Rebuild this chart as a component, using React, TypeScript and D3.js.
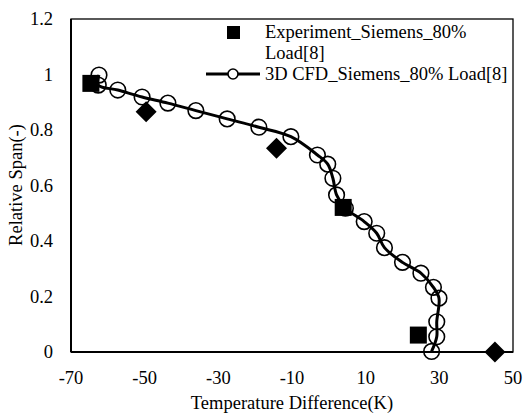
import React from "react";
import * as d3 from "d3";

const cfdX = [-62.4, -62.6, -57.3, -50.7, -43.7, -36.1, -27.6, -19.0, -10.3, -3.1, -0.3, 1.1, 2.1, 4.5, 9.6, 13.0, 15.1, 20.0, 25.0, 28.4, 29.9, 29.3, 29.3, 27.9];
const cfdY = [0.998, 0.962, 0.944, 0.919, 0.897, 0.870, 0.840, 0.810, 0.776, 0.710, 0.677, 0.626, 0.566, 0.518, 0.470, 0.428, 0.376, 0.323, 0.284, 0.233, 0.194, 0.109, 0.055, 0.002];

const expSquareX = [-64.6, 3.9, 24.3];
const expSquareY = [0.968, 0.521, 0.061];
const expDiamondX = [-49.6, -14.2, 45.1];
const expDiamondY = [0.866, 0.734, 0.0];

const xTicks = [-70, -50, -30, -10, 10, 30, 50];
const yTicks = [0, 0.2, 0.4, 0.6, 0.8, 1, 1.2];

const legendLabels = ["Experiment_Siemens_80%", "Load[8]", "3D CFD_Siemens_80% Load[8]"];
const xTitle = "Temperature Difference(K)";
const yTitle = "Relative Span(-)";

export default function App() {
  const W = 524, H = 417;
  const L = 71, R = 513, T = 19, B = 352;
  const x = d3.scaleLinear().domain([-70, 50]).range([L, R]);
  const y = d3.scaleLinear().domain([0, 1.2]).range([B, T]);
  const tstyle = { fontFamily: "'Liberation Serif', 'Times New Roman', serif", fontSize: "18.5px" };

  const pts: [number, number][] = cfdX.map((v, i) => [v, cfdY[i]]);
  const line = d3
    .line<[number, number]>()
    .x((d) => x(d[0]))
    .y((d) => y(d[1]))
    .curve(d3.curveCatmullRom.alpha(0.5));

  const sq = 17;
  const dm = 10.5;

  return (
    <svg width={W} height={H} style={{ position: "absolute", left: 0, top: 0, background: "#fff" }}>
      <rect x={0} y={0} width={W} height={H} fill="#fff" />
      <rect x={L} y={T} width={R - L} height={B - T} fill="none" stroke="#000" strokeWidth={1.3} />
      <line x1={L} x2={L} y1={T} y2={B} stroke="#000" strokeWidth={2} />
      <line x1={L} x2={R} y1={B} y2={B} stroke="#000" strokeWidth={2} />

      {xTicks.map((t) => (
        <text key={"x" + t} x={x(t)} y={384} style={tstyle} textAnchor="middle">
          {t}
        </text>
      ))}
      {yTicks.map((t) => (
        <text key={"y" + t} x={53} y={y(t) + 6} style={tstyle} textAnchor="end">
          {t}
        </text>
      ))}

      <text x={292} y={409} style={tstyle} textAnchor="middle">
        {xTitle}
      </text>
      <text transform={`translate(22, 185) rotate(-90)`} style={tstyle} textAnchor="middle">
        {yTitle}
      </text>

      <path d={line(pts) || ""} fill="none" stroke="#000" strokeWidth={3} />
      {pts.map((p, i) => (
        <circle key={"c" + i} cx={x(p[0])} cy={y(p[1])} r={7.8} fill="none" stroke="#000" strokeWidth={1.6} />
      ))}

      {expSquareX.map((v, i) => (
        <rect key={"s" + i} x={x(v) - sq / 2} y={y(expSquareY[i]) - sq / 2} width={sq} height={sq} fill="#000" />
      ))}
      {expDiamondX.map((v, i) => {
        const cx = x(v), cy = y(expDiamondY[i]);
        return (
          <path
            key={"d" + i}
            d={`M${cx},${cy - dm}L${cx + dm},${cy}L${cx},${cy + dm}L${cx - dm},${cy}Z`}
            fill="#000"
          />
        );
      })}

      <rect x={227} y={26} width={13} height={13} fill="#000" />
      <text x={265} y={38} style={tstyle}>{legendLabels[0]}</text>
      <text x={265} y={59} style={tstyle}>{legendLabels[1]}</text>
      <line x1={206} x2={260} y1={74} y2={74} stroke="#000" strokeWidth={3} />
      <circle cx={233} cy={74} r={5} fill="#fff" stroke="#000" strokeWidth={1.6} />
      <text x={265} y={80} style={tstyle}>{legendLabels[2]}</text>
    </svg>
  );
}
